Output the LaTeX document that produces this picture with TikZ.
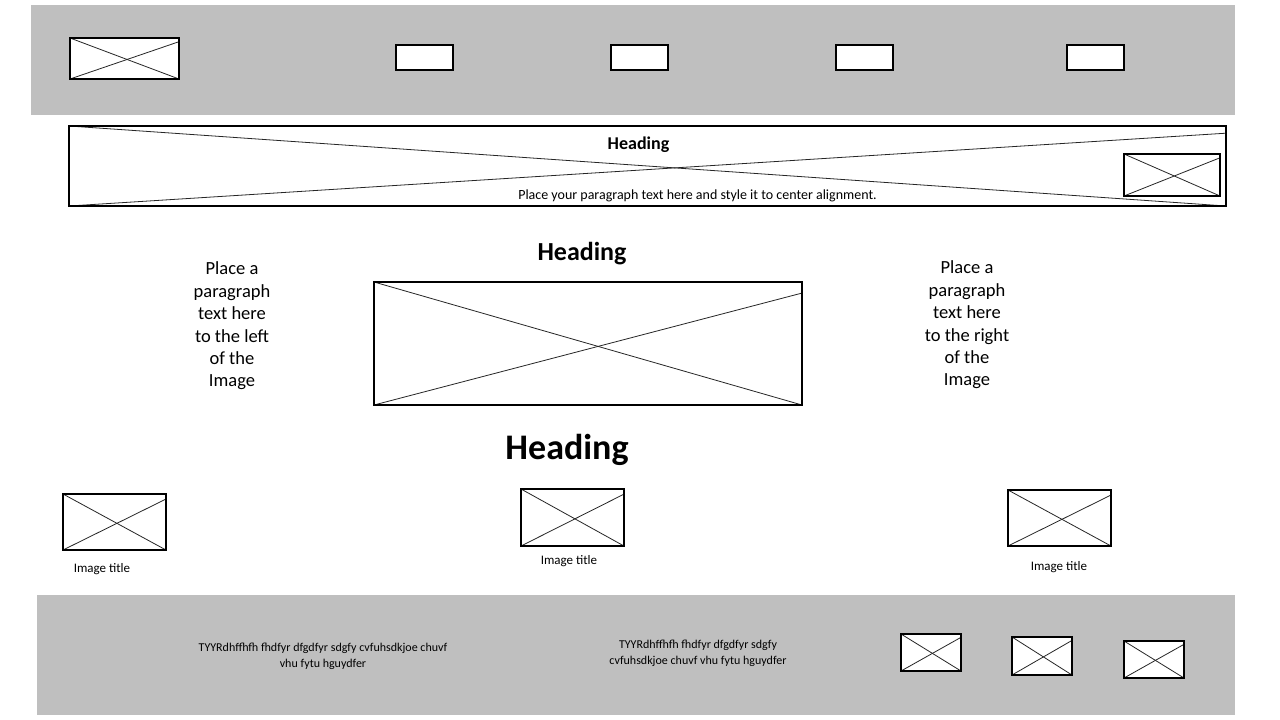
\documentclass[tikz,border=0pt]{standalone}
\usepackage{fontspec}
\setmainfont{Carlito}
\usetikzlibrary{calc, positioning}
\tikzset{img box/.style 2 args={draw, line width=1.6pt, fill=white, inner sep=0pt,
    minimum width=#1pt, minimum height=#2pt,
    path picture={
      \draw[line width=0.8pt,black!85] (path picture bounding box.north west) -- (path picture bounding box.south east);
      \draw[line width=0.8pt,black!85] (path picture bounding box.south west) -- ($(path picture bounding box.north east)!0.09!(path picture bounding box.south east)$);}},
nav box/.style={draw, line width=1.6pt, fill=white, inner sep=0pt, minimum width=57pt, minimum height=25pt}}

\begin{document}
\begin{tikzpicture}[x=1pt,y=-1pt,
                    main text/.style={inner sep=0pt,align=center},
                    heading/.style={main text,font=\bfseries\fontsize{#1}{#1}\selectfont},
                    caption/.style={main text,font=\fontsize{13}{15}\selectfont},
                    foot text/.style={main text,font=\fontsize{12}{16}\selectfont}]

%DRAWING BARS
  \fill[white] (0,0) rectangle (1280,720);
  \fill[gray!50] (31,5) rectangle (1235,115);
  \fill[gray!50] (37,595) rectangle (1235,715);

%DRAWING TOP BAR
  \node[img box={109}{41}] (logo) at (124.5,58.5) {};
  \foreach \x [count=\i] in {424.5,639.5,864.5,1095.5}
    \node[nav box] (nav\i) at (\x,57.5) {};

%DRAWING BANNER
  \node[img box={1157}{80}] (banner) at (647.5,166) {};
  \node[img box={96}{42}] (bannerImg) at (1172,175) {};
  \node[heading=18] (bannerHeading) at (638.5,145) {Heading};
  \node[main text,font=\fontsize{14}{17}\selectfont] (bannerText) at (697.5,196)
    {Place your paragraph text here and style it to center alignment.};

%DRAWING MIDDLE
  \node[heading=26] (midHeading) at (582,254) {Heading};
  \node[img box={428}{123}] (bigImg) at (588,343.5) {};
  \node[main text,font=\fontsize{18.5}{22.4}\selectfont] (leftText) at (232,326)
    {Place a\\paragraph\\text here\\to the left\\of the\\Image};
  \node[main text,font=\fontsize{18.5}{22.4}\selectfont] (rightText) at (967,325)
    {Place a\\paragraph\\text here\\to the right\\of the\\Image};
  \node[heading=36] (bigHeading) at (567,450) {Heading};

%DRAWING GALLERY
  \node[img box={103}{56}] (img1) at (114.5,522) {};
  \node[caption] (title1) [shift={(-12.5,47)}] at (img1) {Image title};
  \node[img box={103}{57}] (img2) at (572.5,517.5) {};
  \node[caption] (title2) [shift={(-3.5,43.5)}] at (img2) {Image title};
  \node[img box={103}{56}] (img3) at (1059.5,518) {};
  \node[caption] (title3) [shift={(-0.5,49)}] at (img3) {Image title};

%DRAWING FOOTER
  \node[foot text] (foot1) at (323,656.5)
    {TYYRdhffhfh fhdfyr dfgdfyr sdgfy cvfuhsdkjoe chuvf\\vhu fytu hguydfer};
  \node[foot text] (foot2) at (698,653.5)
    {TYYRdhffhfh fhdfyr dfgdfyr sdgfy\\cvfuhsdkjoe chuvf vhu fytu hguydfer};
  \node[img box={60}{37}] (footImg1) at (931,652.5) {};
  \node[img box={60}{38}] (footImg2) at (1042,656) {};
  \node[img box={60}{37}] (footImg3) at (1154,659.5) {};

\end{tikzpicture}
\end{document}
